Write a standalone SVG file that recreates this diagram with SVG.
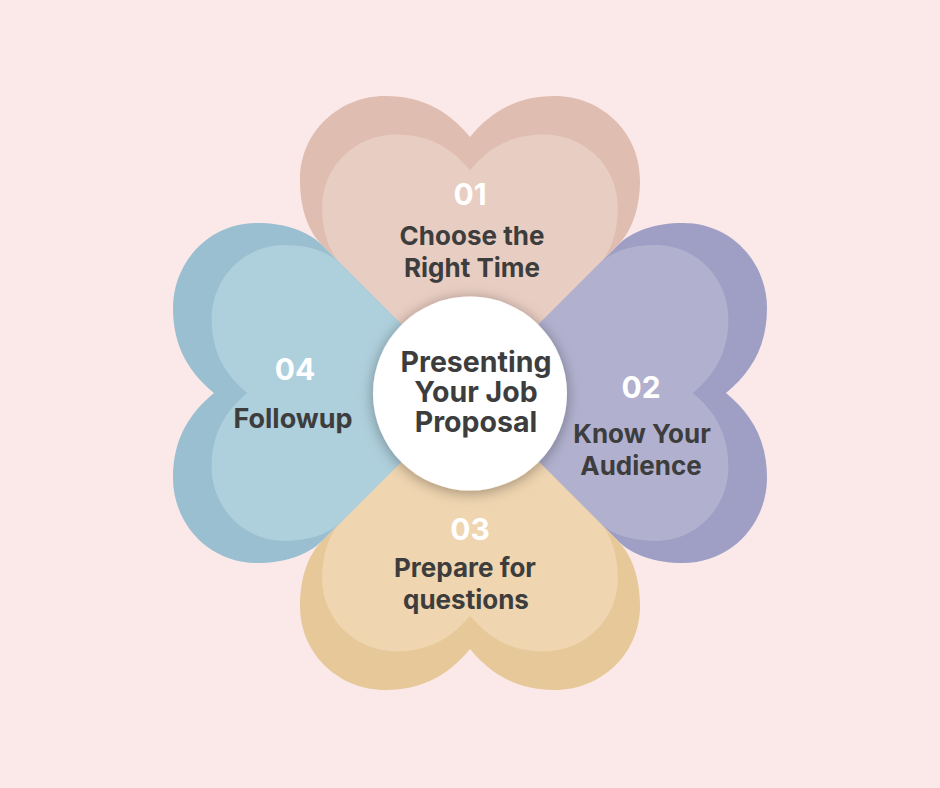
<svg xmlns="http://www.w3.org/2000/svg" width="940" height="788" viewBox="0 0 940 788">
  <defs>
    <path id="heart" d="M0 0 L-148 -148 C-162 -162 -170 -185 -170 -213 C-170 -262 -130 -297 -85 -297 C-45 -297 -20 -280 0 -256 C20 -280 45 -297 85 -297 C130 -297 170 -262 170 -213 C170 -185 162 -162 148 -148 Z"/>
    <filter id="shadow" x="-30%" y="-30%" width="160%" height="160%">
      <feDropShadow dx="0" dy="2" stdDeviation="7" flood-color="#000" flood-opacity="0.35"/>
    </filter>
  </defs>
  <style>
    .o1{fill:#dfbdb0}.i1{fill:#e8cdc2}
    .o2{fill:#9f9fc5}.i2{fill:#b1b1cf}
    .o3{fill:#e6c899}.i3{fill:#efd5b0}
    .o4{fill:#9abfd0}.i4{fill:#aecfdc}
    .num{font-family:Inter,"Liberation Sans",sans-serif;font-weight:700;font-size:30px;fill:#ffffff;text-anchor:middle}
    .lbl{font-family:Inter,"Liberation Sans",sans-serif;font-weight:700;font-size:26px;fill:#3d3d3d;text-anchor:middle}
    .ctr{font-family:Inter,"Liberation Sans",sans-serif;font-weight:700;font-size:28.5px;fill:#3d3d3d;text-anchor:middle}
  </style>
  <rect width="940" height="788" fill="#fbe9e9"/>
  <g id="heart-01">
    <use href="#heart" class="o1" transform="translate(470 393)"/>
    <use href="#heart" class="i1" transform="translate(470 393) scale(0.87)"/>
    <text class="num" x="470" y="205">01</text>
    <text class="lbl" x="472" y="245">Choose the</text>
    <text class="lbl" x="472" y="277">Right Time</text>
  </g>
  <g id="heart-02">
    <use href="#heart" class="o2" transform="translate(470 393) rotate(90)"/>
    <use href="#heart" class="i2" transform="translate(470 393) rotate(90) scale(0.87)"/>
    <text class="num" x="641" y="398">02</text>
    <text class="lbl" x="642" y="443">Know Your</text>
    <text class="lbl" x="641" y="475">Audience</text>
  </g>
  <g id="heart-03">
    <use href="#heart" class="o3" transform="translate(470 393) rotate(180)"/>
    <use href="#heart" class="i3" transform="translate(470 393) rotate(180) scale(0.87)"/>
    <text class="num" x="470" y="540">03</text>
    <text class="lbl" x="465" y="577">Prepare for</text>
    <text class="lbl" x="466" y="609">questions</text>
  </g>
  <g id="heart-04">
    <use href="#heart" class="o4" transform="translate(470 393) rotate(270)"/>
    <use href="#heart" class="i4" transform="translate(470 393) rotate(270) scale(0.87)"/>
    <text class="num" x="295" y="380">04</text>
    <text class="lbl" x="293" y="428" style="font-size:27px">Followup</text>
  </g>
  <g id="center">
    <circle cx="470" cy="393.5" r="97" fill="#ffffff" filter="url(#shadow)"/>
    <text class="ctr" x="476" y="372">Presenting</text>
    <text class="ctr" x="476" y="402">Your Job</text>
    <text class="ctr" x="476" y="432">Proposal</text>
  </g>
  <g id="connectors"/>
</svg>
